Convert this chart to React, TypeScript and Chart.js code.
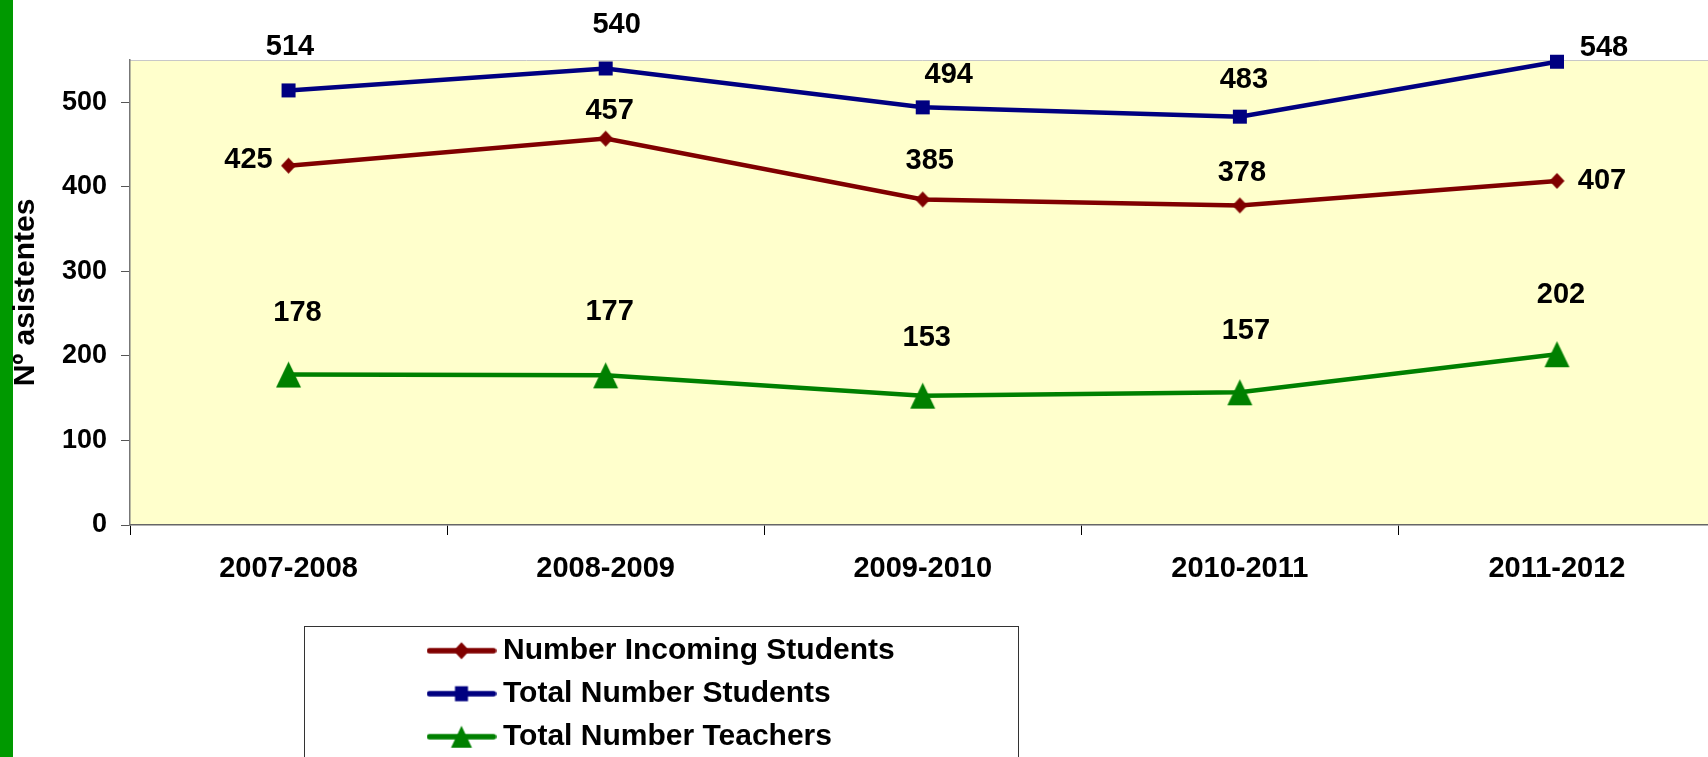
import React, { useEffect, useRef } from 'react';
import { Chart, registerables } from 'chart.js';

Chart.register(...registerables);

// ---- data ----
const categories = ['2007-2008', '2008-2009', '2009-2010', '2010-2011', '2011-2012'];
const seriesLabels = ['Number Incoming Students', 'Total Number Students', 'Total Number Teachers'];
const incomingStudents = [425, 457, 385, 378, 407];
const totalStudents = [514, 540, 494, 483, 548];
const totalTeachers = [178, 177, 153, 157, 202];
const yTickValues = [0, 100, 200, 300, 400, 500];
const yAxisTitle = 'Nº asistentes';

// ---- label placement (styling, offsets from each point in px) ----
const incomingLabelOffsets = [[-40, -6], [4, -28], [7, -38.5], [2, -32.7], [45, 0]];
const studentsLabelOffsets = [[1.5, -43], [11, -43], [26, -32.5], [4, -37], [47, -14]];
const teachersLabelOffsets = [[9, -61.5], [4, -63.5], [4, -57.5], [6, -61], [4, -59]];

const FONT = '"Liberation Sans", Arial, sans-serif';

const RED = '#800000';
const BLUE = '#000080';
const GREEN = '#008000';

function makeCanvas(w: number, h: number, draw: (ctx: CanvasRenderingContext2D) => void) {
  const c = document.createElement('canvas');
  c.width = w;
  c.height = h;
  const ctx = c.getContext('2d') as CanvasRenderingContext2D;
  draw(ctx);
  return c;
}

function diamond(ctx: CanvasRenderingContext2D, cx: number, cy: number, w: number, h: number, color: string) {
  ctx.fillStyle = color;
  ctx.beginPath();
  ctx.moveTo(cx, cy - h / 2);
  ctx.lineTo(cx + w / 2, cy);
  ctx.lineTo(cx, cy + h / 2);
  ctx.lineTo(cx - w / 2, cy);
  ctx.closePath();
  ctx.fill();
}
function square(ctx: CanvasRenderingContext2D, cx: number, cy: number, w: number, h: number, color: string) {
  ctx.fillStyle = color;
  ctx.fillRect(cx - w / 2, cy - h / 2, w, h);
}
function triangle(ctx: CanvasRenderingContext2D, cx: number, cy: number, w: number, h: number, color: string) {
  ctx.fillStyle = color;
  ctx.beginPath();
  ctx.moveTo(cx, cy - h / 2);
  ctx.lineTo(cx + w / 2, cy + h / 2);
  ctx.lineTo(cx - w / 2, cy + h / 2);
  ctx.closePath();
  ctx.fill();
}

type Shape = typeof diamond;

function markerImage(shape: Shape, w: number, h: number, color: string) {
  return makeCanvas(w + 2, h + 2, (ctx) => shape(ctx, (w + 2) / 2, (h + 2) / 2, w, h, color));
}

function legendGlyph(shape: Shape, w: number, h: number, color: string) {
  return makeCanvas(70, 30, (ctx) => {
    ctx.strokeStyle = color;
    ctx.lineWidth = 5.5;
    ctx.lineCap = 'round';
    ctx.beginPath();
    ctx.moveTo(3, 15);
    ctx.lineTo(67, 15);
    ctx.stroke();
    shape(ctx, 35, 15, w, h, color);
  });
}

const valueLabelPlugin = {
  id: 'valueLabels',
  afterDatasetsDraw(chart: any) {
    const ctx = chart.ctx as CanvasRenderingContext2D;
    ctx.save();
    ctx.font = `bold 29px ${FONT}`;
    ctx.fillStyle = '#000';
    ctx.textAlign = 'center';
    ctx.textBaseline = 'middle';
    chart.data.datasets.forEach((ds: any, i: number) => {
      const meta = chart.getDatasetMeta(i);
      meta.data.forEach((pt: any, j: number) => {
        const off = ds.labelOffsets[j];
        ctx.fillText(String(ds.data[j]), pt.x + off[0], pt.y + off[1]);
      });
    });
    ctx.restore();
  },
};

const decorPlugin = {
  id: 'decor',
  beforeDraw(chart: any) {
    const { ctx, chartArea: a } = chart;
    ctx.save();
    ctx.fillStyle = '#ffffff';
    ctx.fillRect(0, 0, chart.width, chart.height);
    ctx.fillStyle = '#FFFFCC';
    ctx.fillRect(a.left, a.top, a.right - a.left, a.bottom - a.top);
    ctx.strokeStyle = '#c8c8c8';
    ctx.lineWidth = 1;
    ctx.beginPath();
    ctx.moveTo(a.left, Math.round(a.top) + 0.5);
    ctx.lineTo(a.right, Math.round(a.top) + 0.5);
    ctx.stroke();
    ctx.fillStyle = '#009900';
    ctx.fillRect(0, 0, 13, chart.height);
    ctx.restore();
    // place the legend below the plot, like the original
    const lg = chart.legend;
    if (lg) {
      lg.left = 422;
      lg.top = 622.7;
      lg.right = 1015;
      lg.bottom = chart.height + 400;
      lg.width = lg.right - lg.left;
      lg.height = lg.bottom - lg.top;
    }
  },
  afterDraw(chart: any) {
    const ctx = chart.ctx as CanvasRenderingContext2D;
    ctx.save();
    ctx.strokeStyle = '#333333';
    ctx.lineWidth = 1;
    ctx.strokeRect(304.5, 626.5, 714, 300);
    ctx.restore();
  },
};

export default function App() {
  const ref = useRef<HTMLCanvasElement | null>(null);

  useEffect(() => {
    const canvas = ref.current;
    if (!canvas) return;
    const shapes: Shape[] = [diamond, square, triangle];
    const colors = [RED, BLUE, GREEN];
    const markerSizes = [[15, 16], [14, 14], [25, 26]];
    const legendSizes = [[16, 17], [13, 15], [21, 22]];
    const series = [incomingStudents, totalStudents, totalTeachers];
    const offsets = [incomingLabelOffsets, studentsLabelOffsets, teachersLabelOffsets];
    const glyphs = shapes.map((s, i) => legendGlyph(s, legendSizes[i][0], legendSizes[i][1], colors[i]));

    const datasets: any[] = series.map((data, i) => ({
      label: seriesLabels[i],
      data,
      borderColor: colors[i],
      backgroundColor: colors[i],
      borderWidth: 4.5,
      pointStyle: markerImage(shapes[i], markerSizes[i][0], markerSizes[i][1], colors[i]),
      pointRadius: 8,
      pointHoverRadius: 8,
      tension: 0,
      clip: false,
      labelOffsets: offsets[i],
    }));

    const chart = new Chart(canvas, {
      type: 'line',
      data: { labels: categories, datasets },
      options: {
        responsive: false,
        animation: false,
        devicePixelRatio: 1,
        layout: { padding: { left: 0, right: 0, top: 60, bottom: 0 } },
        scales: {
          x: {
            offset: true,
            grid: { offset: true, drawOnChartArea: false, drawTicks: true, tickLength: 10, color: '#000', lineWidth: 1 },
            border: { display: true, color: '#666666', width: 1.5 },
            ticks: {
              color: '#000',
              font: { family: FONT, size: 29, weight: 'bold' },
              padding: 17,
              maxRotation: 0,
              autoSkip: false,
            },
            afterFit: (s: any) => {
              s.height = 232;
            },
          },
          y: {
            min: 0,
            max: 550,
            grid: { drawOnChartArea: false, drawTicks: true, tickLength: 9, color: '#555', lineWidth: 1 },
            border: { display: true, color: '#777777', width: 1.5 },
            ticks: {
              color: '#000',
              font: { family: FONT, size: 27, weight: 'bold' },
              padding: 14,
            },
            afterBuildTicks: (s: any) => {
              s.ticks = yTickValues.map((v) => ({ value: v }));
            },
            afterFit: (s: any) => {
              s.width = 130;
            },
            title: {
              display: true,
              text: yAxisTitle,
              color: '#000',
              font: { family: FONT, size: 30, weight: 'bold' },
              padding: { top: 8, bottom: 0 },
            },
          },
        },
        plugins: {
          tooltip: { enabled: false },
          legend: {
            position: 'chartArea',
            align: 'start',
            labels: {
              usePointStyle: true,
              pointStyleWidth: 53,
              padding: 13,
              color: '#000',
              font: { family: FONT, size: 30, weight: 'bold' },
              generateLabels: (c: any) =>
                c.data.datasets.map((ds: any, i: number) => ({
                  text: ds.label,
                  pointStyle: glyphs[i],
                  fillStyle: ds.borderColor,
                  strokeStyle: ds.borderColor,
                  lineWidth: 0,
                  hidden: false,
                  datasetIndex: i,
                  fontColor: '#000',
                })),
            },
          },
        },
      } as any,
      plugins: [decorPlugin, valueLabelPlugin],
    });
    return () => chart.destroy();
  }, []);

  return (
    <div
      style={{
        position: 'fixed',
        left: 0,
        top: 0,
        width: 1708,
        height: 757,
        overflow: 'hidden',
        background: '#fff',
      }}
    >
      <canvas ref={ref} width={1728} height={757} style={{ display: 'block', width: 1728, height: 757 }} />
    </div>
  );
}
